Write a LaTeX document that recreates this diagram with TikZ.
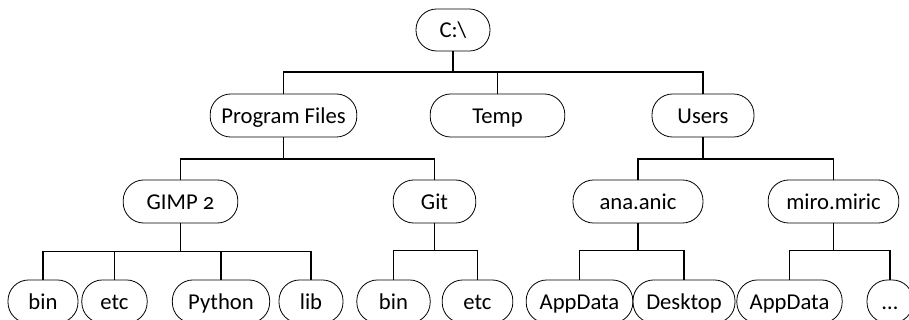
\documentclass[tikz,border=0pt]{standalone}
\usepackage{fontspec}
\setmainfont{Carlito}[Numbers=OldStyle]
\tikzset{every picture/.style={line width=0.75pt}}
\tikzset{
  dirnode/.style={draw, line width=0.6pt, rounded corners=15.5pt, minimum height=32.3pt, inner sep=0.75pt, text height=13pt, text depth=1.2pt, font=\fontsize{17}{20}\selectfont},
  link/.style={line width=1.4pt}
}
\begin{document}
\begin{tikzpicture}[x=0.75pt,y=0.75pt,yscale=-1,xscale=1]
\useasboundingbox (0,0) rectangle (909,320);

% Directory nodes
\node [dirnode, minimum height=31.5pt, minimum width=55.5pt] (root) at (453,30) {C:\textbackslash};

\node [dirnode, minimum width=110pt] (progfiles) at (283.5,115.5) {Program Files};
\node [dirnode, minimum width=101pt] (temp) at (497.5,115.5) {Temp};
\node [dirnode, minimum width=76.5pt] (users) at (703,115.5) {Users};

\node [dirnode, minimum width=86pt] (gimp) at (180.5,201.5) {GIMP 2};
\node [dirnode, minimum width=62pt] (git) at (434.5,201.5) {Git};
\node [dirnode, minimum width=97.5pt] (ana) at (638,201.5) {ana.anic};
\node [dirnode, minimum width=98pt] (miro) at (833.5,201.5) {miro.miric};

\node [dirnode, minimum width=52.5pt] (gbin) at (43,301.5) {bin};
\node [dirnode, minimum width=49pt] (getc) at (114.5,301.5) {etc};
\node [dirnode, minimum width=73pt] (python) at (221,301.5) {Python};
\node [dirnode, minimum width=48pt] (lib) at (311,301.5) {lib};
\node [dirnode, minimum width=55pt] (tbin) at (393.5,301.5) {bin};
\node [dirnode, minimum width=53pt] (tetc) at (477.5,301.5) {etc};
\node [dirnode, minimum width=80pt] (aappdata) at (579.5,301.5) {AppData};
\node [dirnode, minimum width=76.5pt] (desktop) at (684,301.5) {Desktop};
\node [dirnode, minimum width=79pt] (mappdata) at (789.5,301.5) {AppData};
\node [dirnode, minimum width=34.5pt] (more) at (890,301.5) {\dots};

% Connectors
\draw [link, line width=2pt] (root.south) -- ++(0,21);
\foreach \c in {progfiles,temp,users}
  \draw [link] (root.south) -- ++(0,21) -| (\c.north);
\foreach \c in {gimp,git}
  \draw [link] (progfiles.south) -- ++(0,22) -| (\c.north);
\foreach \c in {ana,miro}
  \draw [link] (users.south) -- ++(0,22) -| (\c.north);
\foreach \c in {gbin,getc,python,lib}
  \draw [link] (gimp.south) -- ++(0,28) -| (\c.north);
\foreach \c in {tbin,tetc}
  \draw [link] (git.south) -- ++(0,27) -| (\c.north);
\foreach \c in {aappdata,desktop}
  \draw [link] (ana.south) -- ++(0,27) -| (\c.north);
\foreach \c in {mappdata,more}
  \draw [link] (miro.south) -- ++(0,27) -| (\c.north);

\end{tikzpicture}
\end{document}
